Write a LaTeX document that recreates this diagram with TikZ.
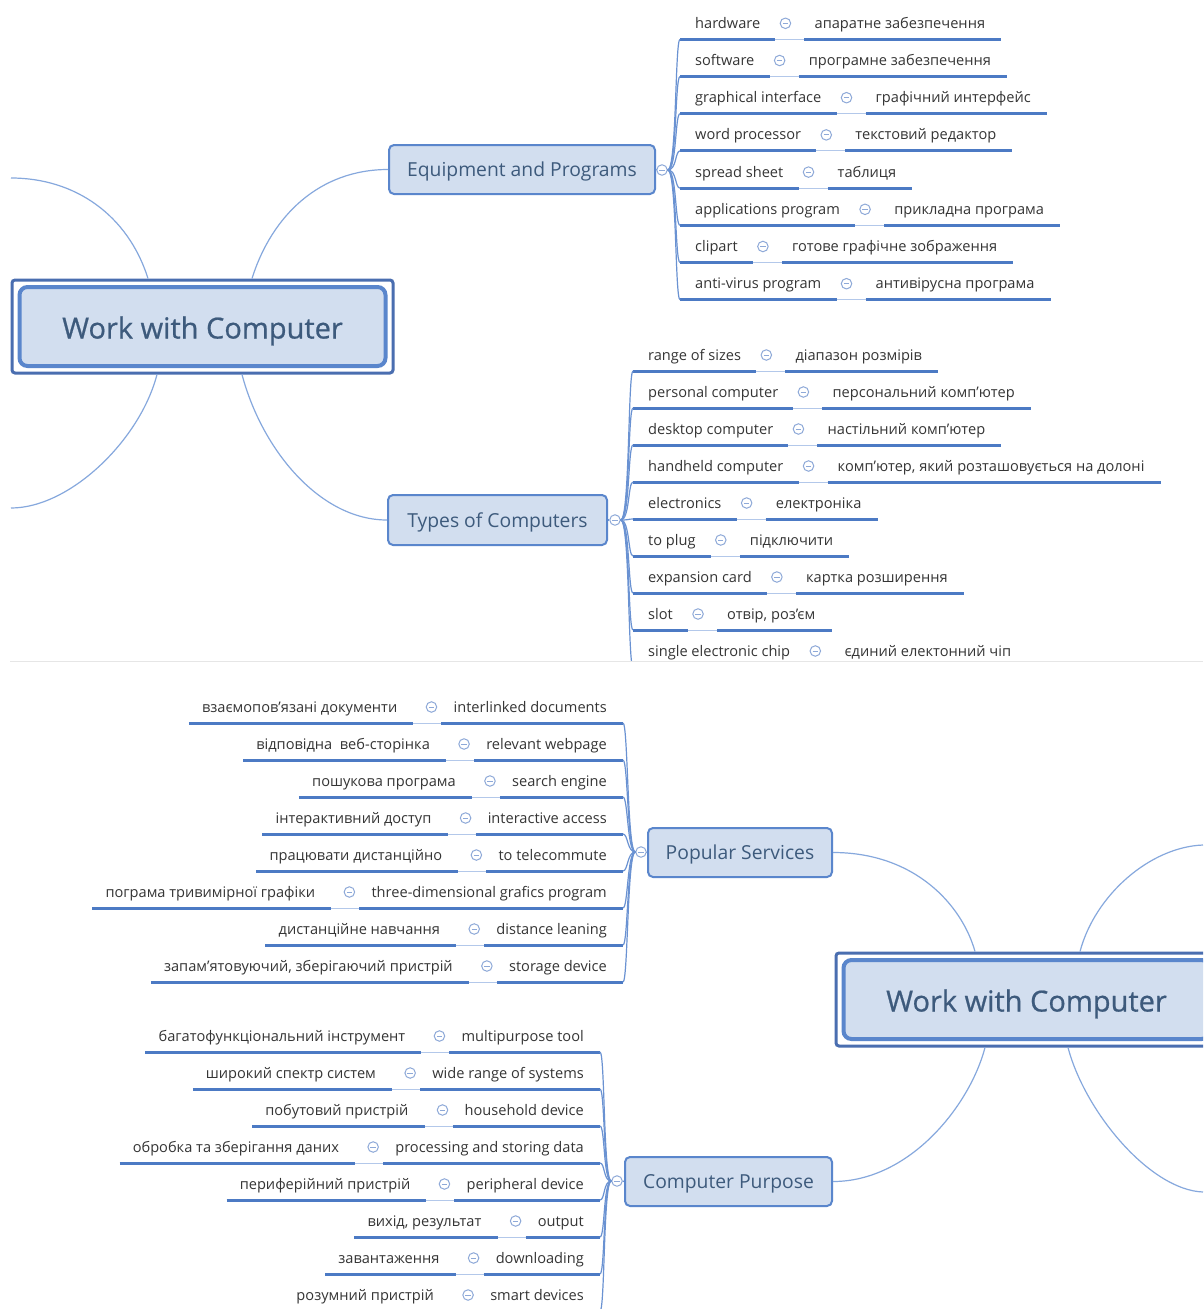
\documentclass[tikz,border=0pt]{standalone}
\usepackage{fontspec}
\setmainfont{Open Sans}
\newfontfamily\rootfont{Open Sans}[FakeBold=0.7]
\usetikzlibrary{calc}
\definecolor{nfill}{HTML}{D2DEEF}
\definecolor{nbord}{HTML}{5A86CC}
\definecolor{ntext}{HTML}{3D5A7C}
\definecolor{ltext}{HTML}{353535}
\definecolor{ulc}{HTML}{4C7AC4}
\definecolor{thinc}{HTML}{B3C8EA}
\definecolor{curvec}{HTML}{86A8DD}
\definecolor{brc}{HTML}{6A92D2}
\definecolor{btnc}{HTML}{8EA9D8}
\definecolor{outc}{HTML}{4A6EB0}
\definecolor{sepc}{HTML}{E6E6E6}
\tikzset{
 lbl/.style={inner sep=0pt, text=ltext, font=\fontsize{14.6}{17}\selectfont},
 ul/.style={draw=ulc, line width=3pt},
 thinl/.style={draw=thinc, line width=1pt},
 cbtn/.style={circle, draw=btnc, line width=1pt, fill=white, minimum size=10.5pt, inner sep=0pt,
   path picture={\draw[btnc, line width=1pt] ([xshift=-2.7pt]path picture bounding box.center) -- ([xshift=2.7pt]path picture bounding box.center);}},
 topic/.style={draw=nbord, line width=2pt, fill=nfill, rounded corners=5pt, text=ntext, font=\fontsize{19.3}{23}\selectfont, inner sep=0pt, text height=15pt, text depth=1pt},
 rootn/.style={draw=outc, line width=3pt, fill=white, rounded corners=3pt, minimum width=381pt, minimum height=93pt, inner sep=0pt},
 rooti/.style={draw=nbord, line width=4pt, fill=nfill, rounded corners=8pt, minimum width=366pt, minimum height=79pt, inner sep=0pt, text=ntext, font=\rootfont\fontsize{29}{34}\selectfont, text height=24pt, text depth=0pt},
 branch/.style={draw=curvec, line width=1.2pt},
 brk/.style={draw=brc, line width=1.2pt},
}
% left-to-right row: name, parent button, underline y, underline start x, left text, right text
\newcommand\ltrrow[6]{%
  \node[lbl,anchor=base west] (#1-a) at (#4+15,#3-11) {#5};
  \coordinate (#1-s) at (#4,#3);
  \path (#1-a.base east) ++(15,11) coordinate (#1-e) ++(10,-16) node[cbtn] (#1-c) {}
        ++(19,16) coordinate (#1-rs) ++(10,-11) node[lbl,anchor=base west] (#1-b) {#6};
  \path (#1-b.base east) ++(16,11) coordinate (#1-re);
  \draw[thinl] (#1-e) -- (#1-rs);
  \draw[ul] (#1-s) -- (#1-e);
  \draw[ul] (#1-rs) -- (#1-re);
  \draw[brk] (#2.east) .. controls +(9,0) and +(-5,0) .. (#1-s);
}
% right-to-left row: name, parent button, underline y, underline end x, left (Ukrainian) text, right (English) text
\newcommand\rtlrow[6]{%
  \node[lbl,anchor=base east] (#1-a) at (#4-16,#3-11) {#6};
  \coordinate (#1-e) at (#4,#3);
  \path (#1-a.base west) ++(-12,11) coordinate (#1-s) ++(-10,-16) node[cbtn] (#1-c) {}
        ++(-18,16) coordinate (#1-ue) ++(-16,-11) node[lbl,anchor=base east] (#1-b) {#5};
  \path (#1-b.base west) ++(-13,11) coordinate (#1-us);
  \draw[thinl] (#1-ue) -- (#1-s);
  \draw[ul] (#1-s) -- (#1-e);
  \draw[ul] (#1-us) -- (#1-ue);
  \draw[brk] (#2.west) .. controls +(-8,0) and +(5,0) .. (#1-e);
}
\begin{document}
\begin{tikzpicture}[x=1pt,y=-1pt]
\useasboundingbox (0,0) rectangle (1203,1309);
\fill[white] (0,0) rectangle (1203,1309);

% ================= TOP MAP =================
\begin{scope}
\clip (10,0) rectangle (1203,660.5);
\node[rootn] (r1) at (202.5,326.5) {};
\node[rooti] (r1t) at (r1.center) {Work with Computer};
\coordinate (offtl) at (11,178);
\coordinate (offbl) at (11,508);
\node[topic, minimum width=266pt, minimum height=49pt] (eq) at (522,169.5) {Equipment and Programs};
\node[topic, minimum width=219pt, minimum height=50pt] (ty) at (497.5,520) {Types of Computers};
\draw[branch] ([xshift=-54.5pt]r1.north) .. controls (128,215) and (75,178) .. (offtl);
\draw[branch] ([xshift=-45.5pt]r1.south) .. controls (140,440) and (70,508) .. (offbl);
\draw[branch] ([xshift=49.5pt]r1.north) .. controls (272,215) and (320,169.5) .. (eq.west);
\draw[branch] ([xshift=39.5pt]r1.south) .. controls (262,450) and (320,520) .. (ty.west);
\node[cbtn] (eqc) at (662,170) {};
\node[cbtn] (tyc) at (615,520) {};
\draw[brk] (eq.east) -- (eqc.west);
\draw[brk] (ty.east) -- (tyc.west);

\ltrrow{e1}{eqc}{39.3}{680}{hardware}{апаратне забезпечення}
\ltrrow{e2}{eqc}{76.5}{680}{software}{програмне забезпечення}
\ltrrow{e3}{eqc}{113.7}{680}{graphical interface}{графічний интерфейс}
\ltrrow{e4}{eqc}{150.9}{680}{word processor}{текстовий редактор}
\ltrrow{e5}{eqc}{188.1}{680}{spread sheet}{таблиця}
\ltrrow{e6}{eqc}{225.3}{680}{applications program}{прикладна програма}
\ltrrow{e7}{eqc}{262.5}{680}{clipart}{готове графічне зображення}
\ltrrow{e8}{eqc}{299.7}{680}{anti-virus program}{антивірусна програма}

\ltrrow{t1}{tyc}{371}{633}{range of sizes}{діапазон розмірів}
\ltrrow{t2}{tyc}{408}{633}{personal computer}{персональний комп'ютер}
\ltrrow{t3}{tyc}{445}{633}{desktop computer}{настільний комп'ютер}
\ltrrow{t4}{tyc}{482}{633}{handheld computer}{комп'ютер, який розташовується на долоні}
\ltrrow{t5}{tyc}{519}{633}{electronics}{електроніка}
\ltrrow{t6}{tyc}{556}{633}{to plug}{підключити}
\ltrrow{t7}{tyc}{593}{633}{expansion card}{картка розширення}
\ltrrow{t8}{tyc}{630}{633}{slot}{отвір, роз'єм}
\ltrrow{t9}{tyc}{667}{633}{single electronic chip}{єдиний електонний чіп}
\end{scope}

\draw[sepc, line width=1pt] (10,661) -- (1203,661);

% ================= BOTTOM MAP =================
\begin{scope}
\clip (0,662) rectangle (1203,1309);
\node[rootn] (r2) at (1026.5,999.5) {};
\node[rooti] (r2t) at (r2.center) {Work with Computer};
\coordinate (offtr) at (1203,845);
\coordinate (offbr) at (1203,1192);
\node[topic, minimum width=184pt, minimum height=49pt] (ps) at (740,852.5) {Popular Services};
\node[topic, minimum width=207pt, minimum height=49pt] (cp) at (728.5,1181.5) {Computer Purpose};
\draw[branch] (ps.east) .. controls (915,852.5) and (962,905) .. ([xshift=-51.5pt]r2.north);
\draw[branch] ([xshift=53.5pt]r2.north) .. controls (1095,895) and (1150,847) .. (offtr);
\draw[branch] ([xshift=-41.5pt]r2.south) .. controls (970,1105) and (910,1181.5) .. (cp.east);
\draw[branch] ([xshift=41.5pt]r2.south) .. controls (1085,1112) and (1150,1190) .. (offbr);
\node[cbtn] (psc) at (641,852) {};
\node[cbtn] (cpc) at (617,1181) {};
\draw[brk] (ps.west) -- (psc.east);
\draw[brk] (cp.west) -- (cpc.east);

\rtlrow{p1}{psc}{723}{623}{взаємопов'язані документи}{interlinked documents}
\rtlrow{p2}{psc}{760}{623}{відповідна\ \ веб-сторінка}{relevant webpage}
\rtlrow{p3}{psc}{797}{623}{пошукова програма}{search engine}
\rtlrow{p4}{psc}{834}{623}{інтерактивний доступ}{interactive access}
\rtlrow{p5}{psc}{871}{623}{працювати дистанційно}{to telecommute}
\rtlrow{p6}{psc}{908}{623}{пограма тривимірної графіки}{three-dimensional grafics program}
\rtlrow{p7}{psc}{945}{623}{дистанційне навчання}{distance leaning}
\rtlrow{p8}{psc}{982}{623}{запам'ятовуючий, зберігаючий пристрій}{storage device}

\rtlrow{c1}{cpc}{1052}{600}{багатофункціональний інструмент}{multipurpose tool}
\rtlrow{c2}{cpc}{1089}{600}{широкий спектр систем}{wide range of systems}
\rtlrow{c3}{cpc}{1126}{600}{побутовий пристрій}{household device}
\rtlrow{c4}{cpc}{1163}{600}{обробка та зберігання даних}{processing and storing data}
\rtlrow{c5}{cpc}{1200}{600}{периферійний пристрій}{peripheral device}
\rtlrow{c6}{cpc}{1237}{600}{вихід, результат}{output}
\rtlrow{c7}{cpc}{1274}{600}{завантаження}{downloading}
\rtlrow{c8}{cpc}{1311}{600}{розумний пристрій}{smart devices}
\end{scope}
\end{tikzpicture}
\end{document}
